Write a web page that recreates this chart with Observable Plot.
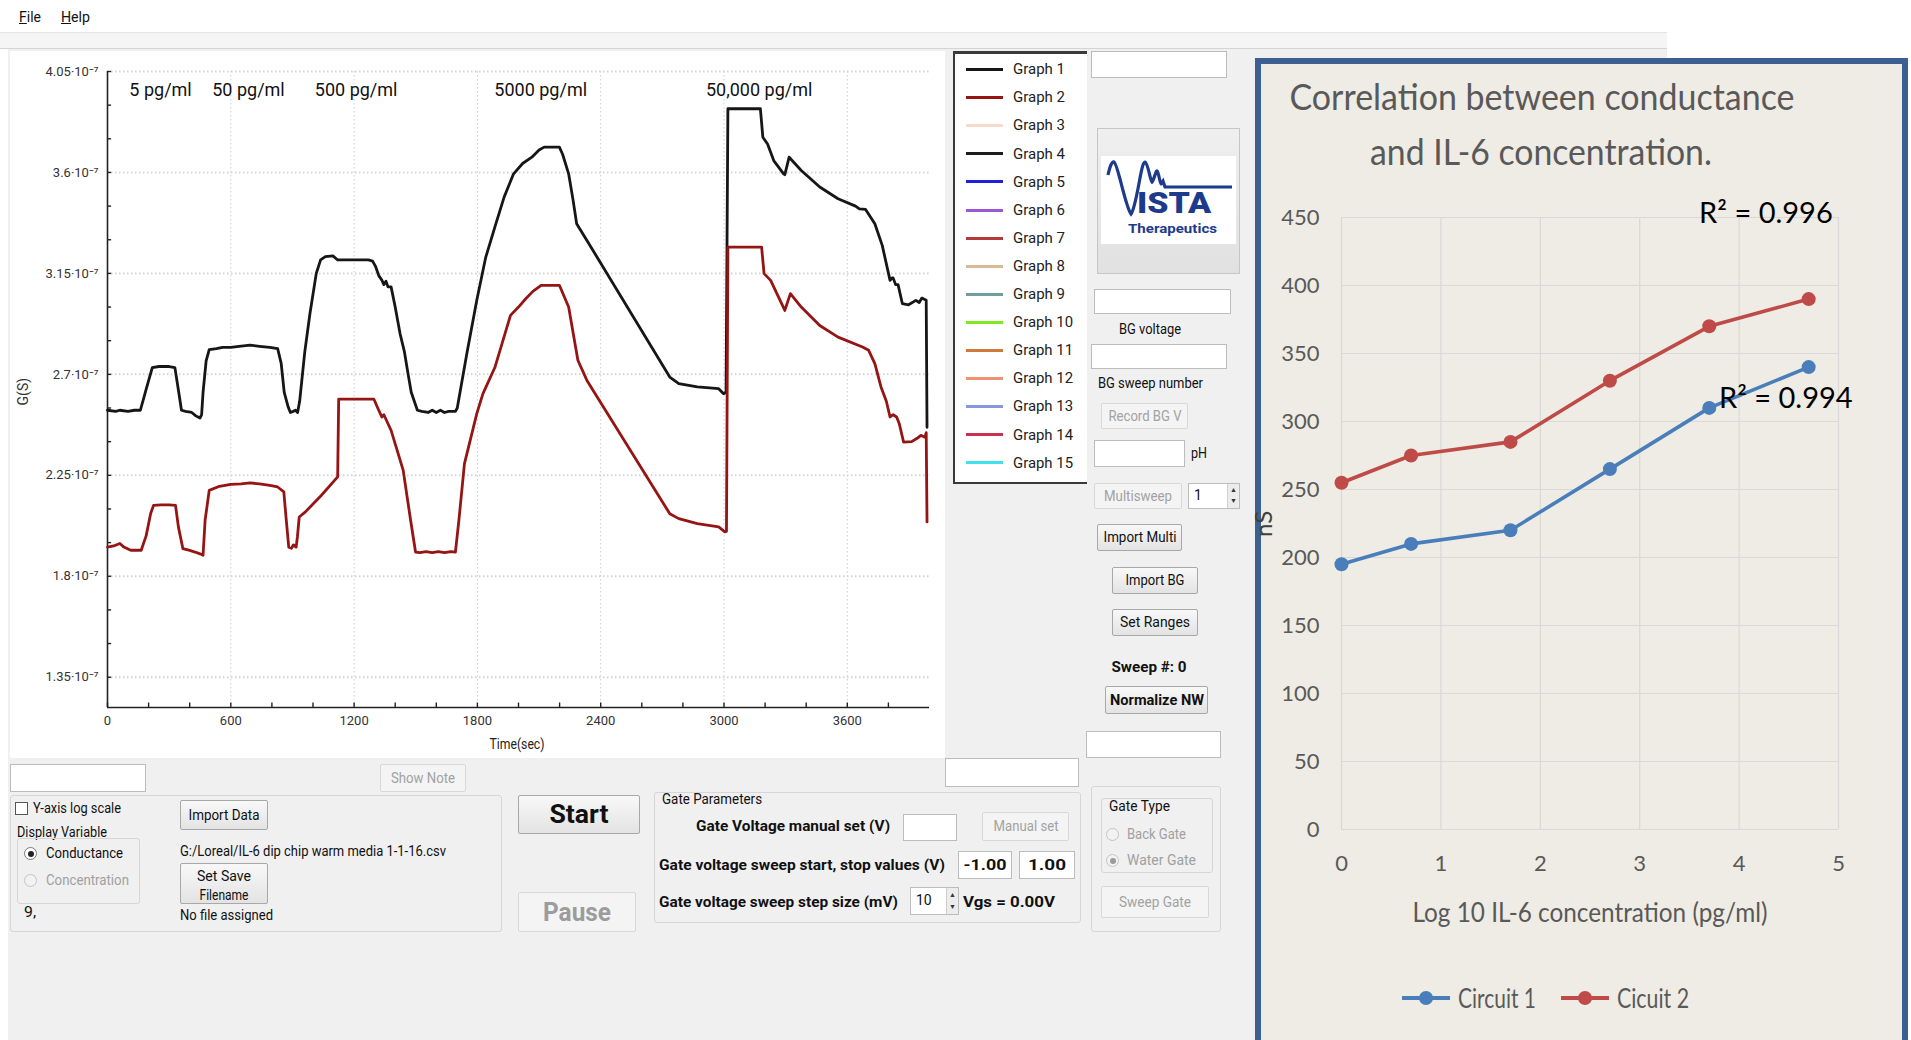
<!DOCTYPE html>
<html>
<head>
<meta charset="utf-8">
<title>Nanowire conductance vs. IL-6 concentration</title>
<script src="https://cdn.jsdelivr.net/npm/d3@7"></script>
<script src="https://cdn.jsdelivr.net/npm/@observablehq/plot@0.6"></script>
<style>
html,body{margin:0;padding:0;background:#fff;}
#root{position:relative;width:1911px;height:1040px;overflow:hidden;font-family:Roboto,"Noto Sans",sans-serif;color:#111;}
.a{position:absolute;box-sizing:border-box;}
.t{position:absolute;white-space:nowrap;}
.tb{background:#fff;border:1px solid #bcbcbc;}
.btn{background:linear-gradient(#f8f8f8,#e3e3e3);border:1px solid #a8a8a8;border-radius:2px;}
.btn.off{background:#f4f4f4;border-color:#d8d8d8;}
.grp{border:1px solid #d6d6d6;border-radius:3px;}
</style>
</head>
<body>
<div id="root"></div>
<script>
// ---- Conductance trace, G in units of 1e-7 S, time in seconds ----
const graph1Points = [
  [0,2.54],[40,2.535],[60,2.54],[100,2.535],[130,2.54],[160,2.54],[190,2.64],[218,2.73],[250,2.735],[300,2.735],
  [328,2.73],[345,2.63],[360,2.54],[380,2.535],[410,2.53],[430,2.515],[450,2.505],[458,2.52],[465,2.62],[480,2.76],
  [495,2.81],[530,2.815],[560,2.82],[600,2.82],[640,2.825],[694,2.83],[740,2.825],[790,2.82],[828,2.815],[845,2.75],
  [860,2.62],[879,2.555],[890,2.53],[903,2.535],[915,2.54],[925,2.53],[935,2.58],[960,2.80],[985,2.97],[1016,3.15],
  [1037,3.21],[1060,3.225],[1097,3.228],[1120,3.21],[1200,3.21],[1270,3.21],[1290,3.205],[1305,3.18],[1320,3.14],
  [1335,3.12],[1345,3.10],[1355,3.115],[1365,3.09],[1380,3.09],[1400,3.00],[1424,2.88],[1445,2.80],[1463,2.70],
  [1478,2.62],[1493,2.58],[1508,2.54],[1530,2.535],[1560,2.53],[1580,2.54],[1600,2.53],[1620,2.54],[1640,2.53],
  [1660,2.535],[1693,2.535],[1702,2.55],[1750,2.80],[1797,3.03],[1840,3.22],[1886,3.36],[1930,3.49],[1976,3.594],
  [2020,3.64],[2065,3.668],[2100,3.70],[2125,3.713],[2199,3.713],[2215,3.68],[2244,3.594],[2265,3.48],[2283,3.371],
  [2333,3.297],[2736,2.688],[2780,2.659],[2870,2.644],[2930,2.64],[2974,2.636],[2998,2.614],[3010,2.62],[3019,3.884],
  [3177,3.884],[3189,3.757],[3212,3.727],[3242,3.653],[3290,3.594],[3296,3.59],[3317,3.668],[3376,3.609],[3466,3.535],
  [3555,3.483],[3640,3.45],[3659,3.438],[3689,3.435],[3734,3.371],[3770,3.275],[3808,3.119],[3818,3.13],[3823,3.13],
  [3835,3.10],[3847,3.10],[3868,3.015],[3898,3.01],[3934,3.03],[3950,3.02],[3963,3.04],[3984,3.03],[3988,2.464]
];
const graph2Points = [
  [0,1.93],[30,1.935],[60,1.946],[80,1.93],[113,1.916],[164,1.916],[188,1.98],[210,2.08],[224,2.116],[260,2.118],
  [300,2.118],[331,2.116],[345,2.02],[367,1.923],[400,1.915],[426,1.908],[450,1.90],[465,1.894],[475,2.05],[495,2.183],
  [545,2.201],[600,2.21],[650,2.212],[694,2.216],[740,2.212],[790,2.205],[828,2.198],[858,2.176],[870,2.05],[882,1.93],
  [895,1.925],[905,1.94],[918,1.93],[924,1.975],[933,2.064],[963,2.087],[1040,2.16],[1120,2.243],[1125,2.59],[1296,2.59],
  [1315,2.55],[1335,2.51],[1345,2.52],[1365,2.48],[1380,2.45],[1410,2.36],[1439,2.272],[1457,2.16],[1475,2.05],
  [1499,1.908],[1520,1.905],[1550,1.91],[1580,1.905],[1610,1.91],[1640,1.905],[1670,1.91],[1693,1.908],[1710,2.05],
  [1737,2.302],[1797,2.525],[1827,2.614],[1886,2.733],[1961,2.963],[2000,3.00],[2035,3.037],[2070,3.07],[2110,3.097],
  [2199,3.097],[2244,3.00],[2289,2.763],[2333,2.673],[2736,2.079],[2780,2.057],[2870,2.035],[2974,2.02],[3004,1.998],
  [3012,2.00],[3019,3.267],[3183,3.267],[3195,3.149],[3227,3.119],[3296,2.985],[3323,3.06],[3376,3.0],[3466,2.918],
  [3555,2.866],[3674,2.822],[3704,2.807],[3734,2.748],[3764,2.644],[3790,2.58],[3808,2.51],[3823,2.52],[3840,2.51],
  [3853,2.48],[3874,2.398],[3913,2.40],[3940,2.415],[3958,2.428],[3978,2.42],[3984,2.44],[3988,2.042]
];
const doseLabels = ["5 pg/ml", "50 pg/ml", "500 pg/ml", "5000 pg/ml", "50,000 pg/ml"];
const doseTimes = [258, 686, 1210, 2108, 3171];
const doseLabelG = 3.968;

const timeTicks = [0, 600, 1200, 1800, 2400, 3000, 3600];
const timeMinorTicks = [0,200,400,600,800,1000,1200,1400,1600,1800,2000,2200,2400,2600,2800,3000,3200,3400,3600,3800];
const gTicks = [1.35, 1.8, 2.25, 2.7, 3.15, 3.6, 4.05];
const gMinorTicks = [1.35,1.5,1.65,1.8,1.95,2.1,2.25,2.4,2.55,2.7,2.85,3.0,3.15,3.3,3.45,3.6,3.75,3.9,4.05];
const timeDomain = [0, 4000];
const gDomain = [1.215, 4.05];

const graphNames = ["Graph 1","Graph 2","Graph 3","Graph 4","Graph 5","Graph 6","Graph 7","Graph 8","Graph 9","Graph 10","Graph 11","Graph 12","Graph 13","Graph 14","Graph 15"];
const graphColors = ["#161616","#951515","#f6dcc8","#1c1c1c","#2020d8","#9a58d6","#b23a3a","#d9ba96","#6e9e9e","#80e820","#cf7a3a","#ef9272","#8a95e0","#c8324f","#40e0ec"];

// ---- Correlation inset: log10 concentration vs conductance (nS) ----
const logConcentration = [0, 0.7, 1.7, 2.7, 3.7, 4.7];
const circuit1 = [195, 210, 220, 265, 310, 340];
const circuit2 = [255, 275, 285, 330, 370, 390];
const circuitNames = ["Circuit 1", "Cicuit 2"];
const circuitColors = ["#4a7ebb", "#be4b48"];
const r2Labels = ["R² = 0.996", "R² = 0.994"];
const r2X = [4.27, 4.47];
const r2Y = [453, 317];
const corrXTicks = [0, 1, 2, 3, 4, 5];
const corrYTicks = [0, 50, 100, 150, 200, 250, 300, 350, 400, 450];

// ---------------------------------------------------------------
const root = document.getElementById("root");
const fits = [];

function box(x, y, w, h, cls, css) {
  const d = document.createElement("div");
  d.className = "a " + (cls || "");
  Object.assign(d.style, {left: x + "px", top: y + "px", width: w + "px", height: h + "px"}, css || {});
  root.appendChild(d);
  return d;
}
function label(x, y, text, o = {}) {
  const d = document.createElement("div");
  d.className = "t";
  const size = o.size || 15;
  if (o.html) d.innerHTML = o.html; else d.textContent = text;
  Object.assign(d.style, {
    left: x + "px", top: (y - size * 0.62) + "px", fontSize: size + "px", lineHeight: (size * 1.24) + "px",
    fontWeight: o.bold ? "700" : "400", color: o.color || "#111",
    transformOrigin: (o.mid || o.rot) ? "center center" : "left center"
  });
  if (o.font) d.style.fontFamily = o.font;
  if (o.mid) d.style.transform = "translateX(-50%)";
  if (o.rot) d.style.transform = "translateX(-50%) rotate(-90deg)";
  root.appendChild(d);
  if (o.w) fits.push([d, o.w, !!o.mid]);
  return d;
}
function button(x, y, w, h, text, o = {}) {
  box(x, y, w, h, "btn" + (o.off ? " off" : ""));
  label(x + w / 2, y + h / 2, text, Object.assign({mid: true, color: o.off ? "#a2a2a2" : "#111"}, o));
}
function textbox(x, y, w, h, text, o = {}) {
  box(x, y, w, h, "tb");
  if (text) label(x + w / 2, y + h / 2, text, Object.assign({mid: true}, o));
}
function spin(x, y, w, h, text) {
  box(x, y, w, h, "tb");
  box(x + w - 13, y + 1, 12, h - 2, "", {background: "#ececec", borderLeft: "1px solid #cfcfcf"});
  label(x + w - 10, y + h * 0.3, "▲", {size: 7, color: "#333"});
  label(x + w - 10, y + h * 0.72, "▼", {size: 7, color: "#333"});
  label(x + 6, y + h / 2, text, {size: 14});
}
function radio(x, y, checked, off) {
  box(x, y, 13, 13, "", {borderRadius: "50%", border: "1px solid " + (off ? "#c4c4c4" : "#7a7a7a"), background: off ? "#f2f2f2" : "#fff"});
  if (checked) box(x + 3.5, y + 3.5, 6, 6, "", {borderRadius: "50%", background: off ? "#9a9a9a" : "#222"});
}
function place(svg, x, y) {
  Object.assign(svg.style, {position: "absolute", left: x + "px", top: y + "px"});
  root.appendChild(svg);
}

// ---- window chrome ----
box(0, 0, 1667, 32, "", {background: "#fff"});
label(19, 17, "", {html: "<u>F</u>ile", w: 22});
label(61, 17, "", {html: "<u>H</u>elp", w: 29});
box(0, 32, 1667, 17, "", {background: "#f5f5f5", borderTop: "1px solid #e4e4e4", borderBottom: "1px solid #d4d4d4"});
box(8, 49, 1659, 991, "", {background: "#f0f0f0"});

// ---- conductance time trace ----
const graph1 = graph1Points.map(([t, g]) => ({t, g}));
const graph2 = graph2Points.map(([t, g]) => ({t, g}));
const doses = doseLabels.map((label, i) => ({label, t: doseTimes[i], g: doseLabelG}));

const trace = Plot.plot({
  width: 935, height: 707,
  marginLeft: 97, marginTop: 20, marginRight: 16, marginBottom: 51,
  style: {background: "#fff", fontFamily: "Roboto, sans-serif", fontSize: "13px", color: "#333"},
  x: {domain: timeDomain},
  y: {domain: gDomain},
  marks: [
    Plot.ruleX(timeTicks.slice(1), {stroke: "#cdcdcd", strokeDasharray: "1.5,2.5"}),
    Plot.ruleY(gTicks, {stroke: "#d4d4d4", strokeWidth: 2, strokeDasharray: "1.5,2.5"}),
    Plot.axisX({ticks: timeTicks, tickSize: 0, tickPadding: 8, tickFormat: d => String(d), label: null}),
    Plot.axisY({ticks: gTicks, tickSize: 0, tickPadding: 9, tickFormat: d => d3.format(".3~f")(d) + "·10⁻⁷", label: null}),
    Plot.ruleX(timeMinorTicks, {x: d => d, y1: gDomain[0], y2: gDomain[0] + 0.02, stroke: "#222", strokeWidth: 1.4}),
    Plot.ruleY(gMinorTicks, {y: d => d, x1: 0, x2: 20, stroke: "#222", strokeWidth: 1.4}),
    Plot.ruleX([0], {stroke: "#222", strokeWidth: 1.6}),
    Plot.ruleY([gDomain[0]], {stroke: "#222", strokeWidth: 1.6}),
    Plot.line(graph1, {x: "t", y: "g", stroke: graphColors[0], strokeWidth: 2.8}),
    Plot.line(graph2, {x: "t", y: "g", stroke: graphColors[1], strokeWidth: 2.8}),
    Plot.text(doses, {x: "t", y: "g", text: "label", fontSize: 18, fill: "#111", fontFamily: "Roboto, sans-serif"})
  ]
});
place(trace, 10, 51);
label(24, 392, "G(S)", {rot: true, size: 14, color: "#333"});
label(517, 745, "Time(sec)", {mid: true, size: 14, color: "#222", w: 55});

// ---- series legend ----
box(953, 51, 134, 433, "", {background: "#fff", borderLeft: "2px solid #3a3a3a", borderTop: "3px solid #3a3a3a", borderBottom: "2px solid #3a3a3a"});
graphNames.forEach((name, i) => {
  const y = 69.5 + i * 28.1;
  box(966, y - 1.5, 37, 3, "", {background: graphColors[i]});
  label(1013, y, name, {size: 15, color: "#222", w: name.length > 7 ? 60 : 52});
});

// ---- right-hand controls ----
textbox(1091, 51, 136, 27);
box(1097, 128, 143, 146, "", {background: "linear-gradient(#efefef,#e1e1e1)", border: "1px solid #c6c6c6"});
const logo = box(1101, 156, 135, 88, "", {background: "#fff"});
logo.innerHTML = `<svg width="135" height="88" viewBox="0 0 135 88">
  <path d="M7,19 C9,10 11,5 13,6 C17,8 24,50 30,58 C36,50 40,5 44,6 C47,7 49,24 51,26 C53,24 55,14 56,15 C58,17 59,28 60,28 L62,25 L64,31 L131,31"
    fill="none" stroke="#1d3b8c" stroke-width="3.2"/>
  <text x="36" y="57" font-family="Roboto, sans-serif" font-weight="900" font-size="29" fill="#1d3b8c" textLength="74" lengthAdjust="spacingAndGlyphs">ISTA</text>
  <text x="27" y="77" font-family="Roboto, sans-serif" font-weight="700" font-size="13" fill="#1d3b8c" textLength="89" lengthAdjust="spacingAndGlyphs">Therapeutics</text>
</svg>`;
textbox(1094, 289, 137, 25);
label(1150, 329, "BG voltage", {mid: true, w: 62});
textbox(1091, 344, 136, 25);
label(1098, 383, "BG sweep number", {w: 105});
button(1101, 403, 87, 26, "Record BG V", {off: true, w: 73});
textbox(1094, 440, 91, 27);
label(1191, 453, "pH", {w: 16});
button(1094, 483, 88, 26, "Multisweep", {off: true, w: 68});
spin(1188, 483, 52, 26, "1");
button(1097, 524, 85, 27, "Import Multi", {w: 73});
button(1112, 567, 86, 27, "Import BG", {w: 59});
button(1112, 609, 86, 27, "Set Ranges", {w: 70});
label(1149, 667, "Sweep #: 0", {mid: true, bold: true, w: 75});
button(1105, 686, 103, 28, "Normalize NW", {bold: true, w: 94});
textbox(1086, 731, 135, 27);

// ---- bottom controls ----
textbox(10, 764, 136, 28);
button(380, 764, 86, 28, "Show Note", {off: true, w: 64});
textbox(945, 758, 134, 29);
box(10, 795, 492, 137, "grp");
box(15, 802, 13, 13, "", {border: "1px solid #555", background: "#fff"});
label(33, 808, "Y-axis log scale", {w: 88});
label(17, 832, "Display Variable", {w: 90});
box(17, 838, 123, 66, "grp");
radio(24, 847, true, false);
label(46, 853, "Conductance", {w: 77});
radio(24, 874, false, true);
label(46, 880, "Concentration", {w: 83, color: "#a0a0a0"});
label(24, 912, "9,", {w: 12});
button(180, 800, 88, 30, "Import Data", {w: 71});
label(180, 851, "G:/Loreal/IL-6 dip chip warm media 1-1-16.csv", {w: 266});
box(180, 863, 88, 41, "btn");
label(224, 876, "Set Save", {mid: true, w: 54});
label(224, 895, "Filename", {mid: true, w: 49});
label(180, 915, "No file assigned", {w: 93});
button(518, 795, 122, 39, "Start", {bold: true, size: 26, w: 59});
button(518, 892, 118, 40, "Pause", {off: true, bold: true, size: 26, w: 68, color: "#9c9c9c"});

box(654, 792, 427, 131, "grp");
label(662, 800, "Gate Parameters", {size: 14, w: 100});
label(696, 826, "Gate Voltage manual set (V)", {bold: true, w: 194});
textbox(903, 814, 54, 27);
button(982, 812, 87, 29, "Manual set", {off: true, w: 65});
label(659, 865, "Gate voltage sweep start, stop values (V)", {bold: true, w: 286});
textbox(958, 851, 54, 28, "-1.00", {bold: true, w: 43});
textbox(1019, 851, 56, 28, "1.00", {bold: true, w: 38});
label(659, 902, "Gate voltage sweep step size (mV)", {bold: true, w: 239});
spin(910, 887, 49, 28, "10");
label(963, 902, "Vgs = 0.00V", {bold: true, w: 92});

box(1091, 786, 130, 146, "grp");
box(1101, 798, 112, 75, "grp");
label(1109, 806, "Gate Type", {w: 61});
radio(1106, 828, false, true);
label(1127, 834, "Back Gate", {w: 59, color: "#a0a0a0"});
radio(1106, 854, true, true);
label(1127, 860, "Water Gate", {w: 69, color: "#a0a0a0"});
button(1101, 886, 108, 32, "Sweep Gate", {off: true, w: 72});

// ---- correlation inset ----
box(1255, 58, 653, 1000, "", {background: "#eeece4", border: "6px solid #3c6091"});
label(1542, 96, "Correlation between conductance", {mid: true, size: 36, font: "Lato, sans-serif", color: "#595959", w: 505});
label(1541, 151, "and IL-6 concentration.", {mid: true, size: 36, font: "Lato, sans-serif", color: "#595959", w: 342});

const corrRows = [];
logConcentration.forEach((x, i) => corrRows.push({x, y: circuit1[i], series: circuitNames[0]}));
logConcentration.forEach((x, i) => corrRows.push({x, y: circuit2[i], series: circuitNames[1]}));
const r2 = r2Labels.map((text, i) => ({text, x: r2X[i], y: r2Y[i]}));

const corr = Plot.plot({
  width: 620, height: 760,
  marginLeft: 79, marginTop: 27, marginRight: 44, marginBottom: 121,
  style: {background: "transparent", fontFamily: "Lato, sans-serif", fontSize: "22px", color: "#595959", overflow: "visible"},
  x: {domain: [0, 5]},
  y: {domain: [0, 450]},
  color: {domain: circuitNames, range: circuitColors},
  marks: [
    Plot.ruleY(corrYTicks, {stroke: "#d9d9d9", strokeWidth: 1.2}),
    Plot.ruleX(corrXTicks, {stroke: "#d9d9d9", strokeWidth: 1.2}),
    Plot.axisX({ticks: corrXTicks, tickSize: 0, tickPadding: 26, tickFormat: d => String(d), label: null}),
    Plot.axisY({ticks: corrYTicks, tickSize: 0, tickPadding: 22, tickFormat: d => String(d), label: null}),
    Plot.line(corrRows, {x: "x", y: "y", stroke: "series", strokeWidth: 3.6}),
    Plot.dot(corrRows, {x: "x", y: "y", fill: "series", r: 7}),
    Plot.text(r2, {x: "x", y: "y", text: "text", fontSize: 29, fill: "#000", fontFamily: "Lato, sans-serif"})
  ]
});
place(corr, 1262, 190);
label(1590, 912, "Log 10 IL-6 concentration (pg/ml)", {mid: true, size: 27, font: "Lato, sans-serif", color: "#595959", w: 355});
label(1263, 524, "nS", {rot: true, size: 24, font: "Lato, sans-serif", color: "#404040"});

// legend of the inset
[[1402, 1426, 1458, 78], [1561, 1585, 1617, 72]].forEach(([x0, cx, tx, w], i) => {
  box(x0, 996, 48, 4, "", {background: circuitColors[i]});
  box(cx - 7, 991, 14, 14, "", {background: circuitColors[i], borderRadius: "50%"});
  label(tx, 998, circuitNames[i], {size: 26, font: "Lato, sans-serif", color: "#595959", w});
});

// squeeze text to the widths used by the original UI rendering
document.fonts.ready.then(() => {
  for (const [d, w, mid] of fits) {
    const r = d.getBoundingClientRect().width;
    if (!r) continue;
    const s = w / r;
    d.style.transform = (mid ? "translateX(-50%) " : "") + `scaleX(${s.toFixed(3)})`;
  }
});
</script>
</body>
</html>
